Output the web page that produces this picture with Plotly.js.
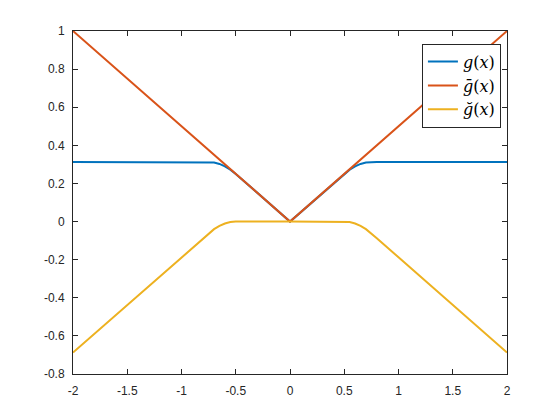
<!DOCTYPE html>
<html>
<head>
<meta charset="utf-8">
<script src="https://cdn.plot.ly/plotly-3.0.1.min.js"></script>
<style>
  html, body { margin: 0; padding: 0; background: #fff; }
  #myDiv { width: 560px; height: 420px; }
</style>
</head>
<body>
<div id="myDiv"></div>
<script>
// values
const xG = [-2, -1.5, -1, -0.8, -0.75, -0.7, -0.65, -0.6, -0.55, -0.5, 0, 0.5, 0.55, 0.6, 0.65, 0.7, 0.75, 0.8, 1, 1.5, 2];
const gVals = [0.3125, 0.3125, 0.3125, 0.3125, 0.3125, 0.31, 0.3025, 0.29, 0.2725, 0.25, 0, 0.25, 0.2725, 0.29, 0.3025, 0.31, 0.3125, 0.3125, 0.3125, 0.3125, 0.3125];
const xBar = [-2, 0, 2];
const gBarVals = [1, 0, 1];
const gBreveVals = [-0.6875, -0.4375, -0.1875, -0.0875, -0.0625, -0.04, -0.0225, -0.01, -0.0025, 0, 0, 0, -0.0025, -0.01, -0.0225, -0.04, -0.0625, -0.0875, -0.1875, -0.4375, -0.6875];

const xTicks = [-2, -1.5, -1, -0.5, 0, 0.5, 1, 1.5, 2];
const xTickText = ['-2', '-1.5', '-1', '-0.5', '0', '0.5', '1', '1.5', '2'];
const yTicks = [-0.8, -0.6, -0.4, -0.2, 0, 0.2, 0.4, 0.6, 0.8, 1];
const yTickText = ['-0.8', '-0.6', '-0.4', '-0.2', '0', '0.2', '0.4', '0.6', '0.8', '1'];

const names = ['<i>g</i>(<i>x</i>)', '<i>ḡ</i>(<i>x</i>)', '<i>ğ</i>(<i>x</i>)'];
const colors = ['#0072BD', '#D95319', '#EDB120'];

const data = [
    { x: xG, y: gVals, type: 'scatter', mode: 'lines', line: { color: colors[0], width: 2 }, name: names[0] },
    { x: xBar, y: gBarVals, type: 'scatter', mode: 'lines', line: { color: colors[1], width: 2 }, name: names[1] },
    { x: xG, y: gBreveVals, type: 'scatter', mode: 'lines', line: { color: colors[2], width: 2 }, name: names[2] }
];

const axisStyle = {
    showgrid: false,
    zeroline: false,
    showline: true,
    mirror: 'ticks',
    linecolor: '#262626',
    linewidth: 1,
    ticks: 'inside',
    ticklen: 5,
    tickcolor: '#262626',
    tickfont: { family: 'Liberation Sans, Arial, sans-serif', size: 12, color: '#262626' }
};

const layout = {
    width: 560,
    height: 420,
    margin: { l: 73, r: 53, t: 31, b: 46 },
    paper_bgcolor: '#fff',
    plot_bgcolor: '#fff',
    xaxis: Object.assign({}, axisStyle, { range: [-2, 2], tickvals: xTicks, ticktext: xTickText, ticklabelstandoff: 6 }),
    yaxis: Object.assign({}, axisStyle, { range: [-0.8, 1], tickvals: yTicks, ticktext: yTickText, ticklabelstandoff: 5 }),
    legend: {
        x: 0.986, y: 0.963, xanchor: 'right', yanchor: 'top',
        bgcolor: '#fff', bordercolor: '#262626', borderwidth: 1,
        font: { family: 'DejaVu Serif, Liberation Serif, serif', size: 16, color: '#000' },
        tracegroupgap: 0
    },
    showlegend: true
};

Plotly.newPlot('myDiv', data, layout, { staticPlot: true });
</script>
</body>
</html>
